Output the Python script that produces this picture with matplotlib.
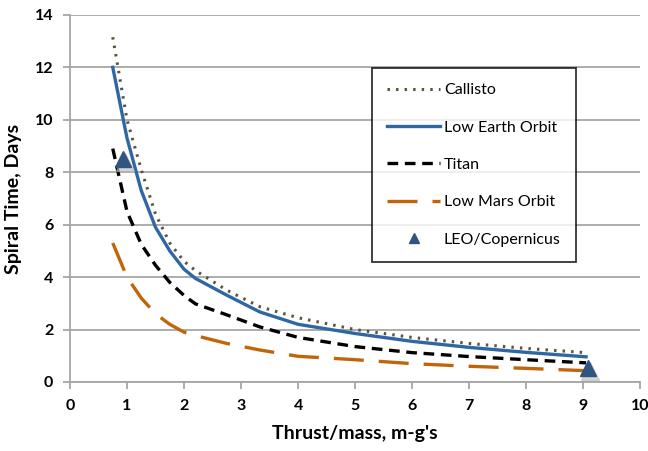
import numpy as np
import matplotlib
matplotlib.use("Agg")
import matplotlib.pyplot as plt

plt.rcParams['font.family'] = ['Lato', 'DejaVu Sans']

# thrust/mass (m-g's) sample points shared by the four curves
thrust = [0.75, 1.0, 1.25, 1.5, 1.75, 2.0, 2.2, 2.75, 3.33, 4.0, 5.0, 6.0, 7.0, 8.0, 9.05]

# spiral times in days
callisto = [13.15, 10.0, 8.1, 6.4, 5.3, 4.6, 4.25, 3.5, 2.87, 2.45, 2.0, 1.7, 1.47, 1.28, 1.12]
leo = [12.0, 9.3, 7.3, 5.9, 5.0, 4.3, 3.95, 3.31, 2.67, 2.2, 1.85, 1.55, 1.32, 1.13, 0.96]
titan = [8.9, 6.5, 5.25, 4.45, 3.8, 3.3, 2.98, 2.56, 2.1, 1.7, 1.35, 1.12, 0.97, 0.85, 0.73]
mars = [5.3, 4.0, 3.2, 2.6, 2.2, 1.9, 1.77, 1.47, 1.22, 0.98, 0.85, 0.7, 0.6, 0.52, 0.43]

# LEO/Copernicus points
cop_x = [0.93, 9.08]
cop_y = [8.5, 0.55]

fig = plt.figure(figsize=(6.48, 4.51), dpi=100)
ax = fig.add_axes([0.108, 0.153, 0.88, 0.814])

ax.plot(thrust, callisto, color='#5E5339', lw=2.2, linestyle=(0, (0.8, 2.0)),
        label='Callisto', zorder=3)
ax.plot(thrust, leo, color='#2E67A3', lw=2.4, label='Low Earth Orbit', zorder=4)
ax.plot(thrust, titan, color='black', lw=2.4, linestyle=(0, (3.2, 2.0)),
        label='Titan', zorder=3)
ax.plot(thrust, mars, color='#C0650A', lw=2.4, linestyle=(0, (9, 4.5)),
        label='Low Mars Orbit', zorder=3)
# soft shadow under the triangles
ax.plot(np.array(cop_x) + 0.04, np.array(cop_y) - 0.12, linestyle='none', marker='^',
        markersize=13, color='#BBBBBB', alpha=0.6, zorder=4)
ax.plot(cop_x, cop_y, linestyle='none', marker='^', markersize=12,
        color='#2F5580', label='LEO/Copernicus', zorder=5)

ax.set_xlim(0, 10)
ax.set_ylim(0, 14)
ax.set_xticks(range(0, 11))
ax.set_yticks(range(0, 15, 2))

ax.grid(axis='y', color='#A6A6A6', lw=1.3)
ax.set_axisbelow(True)
for side in ['top', 'right']:
    ax.spines[side].set_visible(False)
for side in ['left', 'bottom']:
    ax.spines[side].set_color('#A6A6A6')
    ax.spines[side].set_linewidth(1.3)
ax.tick_params(colors='#A6A6A6', width=1.3, length=5, labelcolor='black',
               labelsize=11.5, pad=7)
for lbl in ax.get_xticklabels() + ax.get_yticklabels():
    lbl.set_fontweight('bold')

ax.set_xlabel("Thrust/mass, m-g's", fontsize=14, fontweight='bold', labelpad=9)
ax.set_ylabel('Spiral Time, Days', fontsize=14, fontweight='bold', labelpad=9)

leg = ax.legend(loc='upper left', bbox_to_anchor=(372 / 648, 1 - 68 / 451),
                bbox_transform=fig.transFigure, fontsize=11.5, frameon=True,
                fancybox=False, edgecolor='black', handlelength=3.3,
                handletextpad=0.25, labelspacing=1.45, borderpad=0.95,
                borderaxespad=0, markerscale=0.65)
leg.get_frame().set_linewidth(1.3)

fig.savefig('out.png', dpi=100)
